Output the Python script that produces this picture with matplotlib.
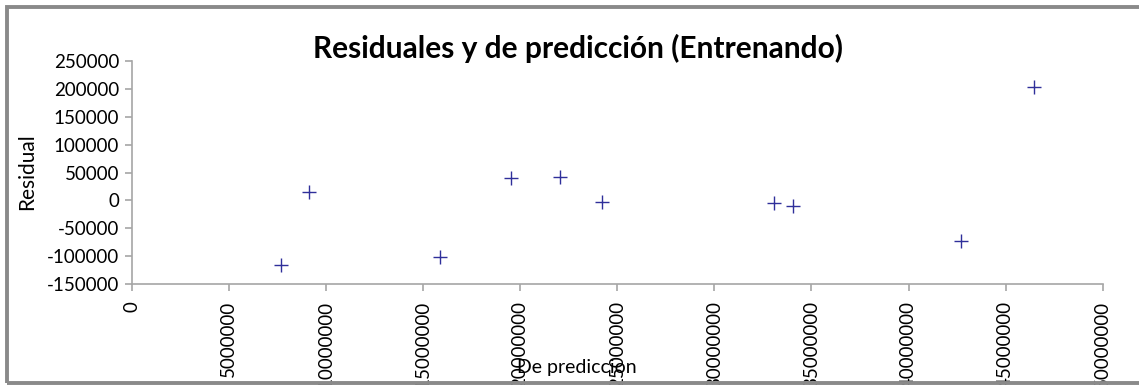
import matplotlib
matplotlib.use("Agg")
import matplotlib.pyplot as plt
from matplotlib.patches import Rectangle

plt.rcParams['font.family'] = ['Lato', 'DejaVu Sans']

# Predicted values and their residuals (training set)
predicted = [7.67e6, 9.15e6, 15.88e6, 19.55e6, 22.05e6, 24.2e6, 33.07e6, 34.04e6, 42.7e6, 46.46e6]
residuals = [-115600, 14900, -102000, 40100, 41900, -3000, -4100, -10200, -73700, 203800]

x_ticks = list(range(0, 50000001, 5000000))
y_ticks = list(range(-150000, 250001, 50000))

W, H, DPI = 1139, 385, 100
fig = plt.figure(figsize=(W / DPI, H / DPI), dpi=DPI)
fig.patch.set_facecolor('white')

ax = fig.add_axes([131.7 / W, 1 - 284 / H, (1102.7 - 131.7) / W, (284 - 61) / H])
ax.scatter(predicted, residuals, marker='+', s=13 ** 2 * 0.52, c='#2f2f9a', linewidths=1.0, zorder=3)

ax.set_xlim(0, 50000000)
ax.set_ylim(-150000, 250000)
ax.set_xticks(x_ticks)
ax.set_yticks(y_ticks)
ax.set_xticklabels([str(v) for v in x_ticks], rotation=90, va='top', ha='center')
ax.set_yticklabels([str(v) for v in y_ticks])

axis_color = '#a6a6a6'
for side in ('top', 'right'):
    ax.spines[side].set_visible(False)
for side in ('left', 'bottom'):
    ax.spines[side].set_color(axis_color)
    ax.spines[side].set_linewidth(1.2)
ax.tick_params(axis='both', direction='out', length=5, width=1.2, color=axis_color,
               labelsize=13.5, labelcolor='black')
ax.tick_params(axis='y', pad=4)
ax.tick_params(axis='x', pad=7)

fig.text(578 / W, 1 - 48 / H, 'Residuales y de predicción (Entrenando)',
         ha='center', va='center', fontsize=21.5, fontweight='bold')
fig.text(27 / W, 1 - 172 / H, 'Residual', rotation=90, ha='center', va='center', fontsize=15)
fig.text(577 / W, 1 - 368 / H, 'De prediccion', ha='center', va='center', fontsize=14)

# Outer chart frame
fig.patches.append(Rectangle((6.5 / W, 2.5 / H), 1.2, 1 - 9 / H, transform=fig.transFigure,
                             fill=False, edgecolor='#8a8a8a', linewidth=2.8, zorder=10))

fig.savefig('out.png', dpi=DPI)
